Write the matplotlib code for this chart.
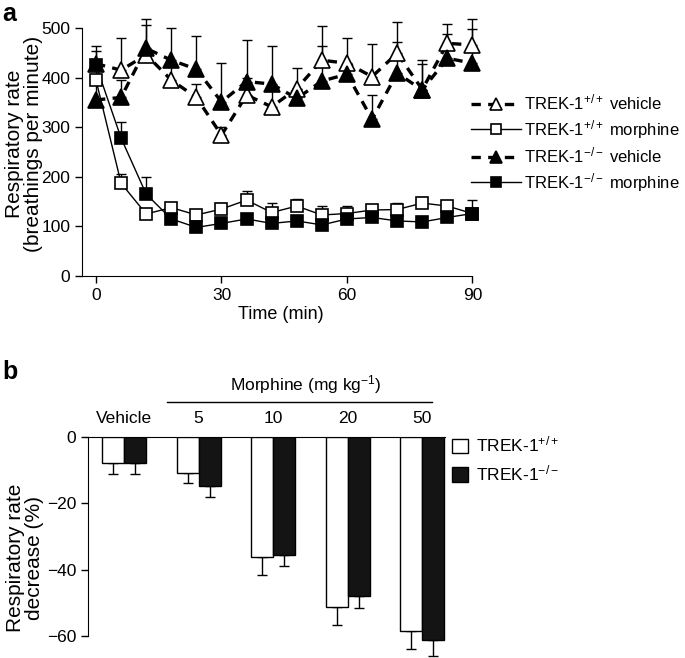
import matplotlib
matplotlib.use("Agg")
import numpy as np
import matplotlib.pyplot as plt
from matplotlib.lines import Line2D

plt.rcParams['font.family'] = ['Liberation Sans', 'DejaVu Sans']
plt.rcParams['font.size'] = 13
plt.rcParams['mathtext.fontset'] = 'custom'
plt.rcParams['mathtext.rm'] = 'Liberation Sans'
plt.rcParams['mathtext.it'] = 'Liberation Sans:italic'
plt.rcParams['mathtext.bf'] = 'Liberation Sans:bold'

# data, panel a
t = [0, 6, 12, 18, 24, 30, 36, 42, 48, 54, 60, 66, 72, 78, 84, 90]
wt_veh = [428, 415, 446, 395, 360, 284, 365, 341, 378, 435, 429, 402, 449, 376, 469, 466]
wt_veh_err = [36, 64, 60, 35, 27, 17, 34, 40, 41, 69, 50, 66, 64, 59, 40, 53]
ko_veh = [355, 360, 459, 435, 417, 351, 392, 387, 358, 393, 407, 316, 409, 375, 439, 429]
ko_veh_err = [40, 35, 60, 66, 66, 79, 84, 77, 20, 71, 20, 49, 62, 52, 49, 69]
wt_mor = [395, 187, 125, 138, 123, 135, 153, 128, 141, 123, 126, 133, 134, 147, 141, 126]
wt_mor_err = [20, 19, 10, 8, 8, 12, 19, 20, 14, 18, 15, 8, 13, 12, 8, 8]
ko_mor = [425, 278, 165, 115, 98, 106, 115, 106, 111, 103, 115, 118, 111, 109, 118, 126]
ko_mor_err = [29, 32, 35, 8, 8, 8, 8, 8, 8, 8, 8, 8, 8, 8, 8, 27]

# data, panel b
groups = ['Vehicle', '5', '10', '20', '50']
wt_dec = [-7.8, -11.0, -36.3, -51.4, -58.5]
wt_dec_err = [3.4, 3.0, 5.3, 5.2, 5.3]
ko_dec = [-7.8, -14.7, -35.6, -47.8, -61.3]
ko_dec_err = [3.4, 3.3, 3.2, 3.7, 4.7]

W, H = 685, 658
fig = plt.figure(figsize=(W / 100, H / 100), dpi=100)

# ---------- panel a ----------
ax = fig.add_axes([82 / W, 1 - 276 / H, 398 / W, (276 - 15.6) / H])
ax.set_xlim(-3.35, 91.8)
ax.set_ylim(0, 525)
dash = (0, (2.8, 2.2))

series = [
    (wt_veh, wt_veh_err, '^', 'white', dash, 2.4, 11),
    (wt_mor, wt_mor_err, 's', 'white', '-', 1.0, 8.5),
    (ko_veh, ko_veh_err, '^', 'black', dash, 2.4, 11),
    (ko_mor, ko_mor_err, 's', 'black', '-', 1.0, 8.5),
]
handles = []
for y, e, m, fc, ls, lw, ms in series:
    ax.errorbar(t, y, yerr=[np.zeros(len(e)), e], fmt='none', ecolor='black',
                elinewidth=1, capsize=3.5, capthick=1, zorder=2)
    ax.plot(t, y, color='black', ls=ls, lw=lw, zorder=3)
    ax.plot(t, y, ls='none', marker=m, ms=ms, mfc=fc, mec='black', mew=1.2, zorder=4)
    handles.append(Line2D([], [], color='black', ls=ls, lw=lw, marker=m, ms=ms * 0.85,
                          mfc=fc, mec='black', mew=1.2))

ax.spines['top'].set_visible(False)
ax.spines['right'].set_visible(False)
ax.spines['left'].set_bounds(0, 500)
ax.spines['bottom'].set_bounds(-3.35, 90)
ax.set_xticks([0, 30, 60, 90])
ax.set_yticks([0, 100, 200, 300, 400, 500])
ax.tick_params(direction='out', length=5, width=1, labelsize=12.5)
ax.set_xlabel('Time (min)', labelpad=2)

labels_a = ['TREK-1$^{+/+}$ vehicle', 'TREK-1$^{+/+}$ morphine',
            'TREK-1$^{-/-}$ vehicle', 'TREK-1$^{-/-}$ morphine']
fig.legend(handles, labels_a, loc='upper left', bbox_to_anchor=(471 / W, 1 - 93 / H),
           frameon=False, fontsize=12, handlelength=3.0, handletextpad=0.2,
           labelspacing=0.3, borderpad=0, borderaxespad=0)

fig.text(24 / W, 1 - 144 / H, 'Respiratory rate\n(breathings per minute)',
         rotation=90, ha='center', va='center', linespacing=1.0, fontsize=15)
fig.text(2 / W, 1 - 2 / H, 'a', fontsize=18, fontweight='bold', ha='left', va='top')

# ---------- panel b ----------
bx = fig.add_axes([88 / W, 0.0, 597 / W, 1 - 436.7 / H])
bx.set_xlim(-0.483, 7.52)
bx.set_ylim(-66.6, 0)
x = np.arange(len(groups))
bw = 0.295
bx.bar(x - bw / 2, wt_dec, bw, color='white', edgecolor='black', lw=1, zorder=3)
bx.bar(x + bw / 2, ko_dec, bw, color='#141414', edgecolor='black', lw=1, zorder=3)
bx.errorbar(x - bw / 2, wt_dec, yerr=[wt_dec_err, np.zeros(len(x))], fmt='none',
            ecolor='black', elinewidth=1, capsize=3.5, capthick=1, zorder=2, clip_on=False)
bx.errorbar(x + bw / 2, ko_dec, yerr=[ko_dec_err, np.zeros(len(x))], fmt='none',
            ecolor='black', elinewidth=1, capsize=3.5, capthick=1, zorder=2, clip_on=False)

bx.spines['right'].set_visible(False)
bx.spines['bottom'].set_visible(False)
bx.spines['left'].set_bounds(-60, 0)
bx.spines['top'].set_bounds(-0.483, 4.3)
bx.set_xticks([])
bx.set_yticks([0, -20, -40, -60])
bx.tick_params(direction='out', length=5, width=1, labelsize=12.5)

for i, g in enumerate(groups):
    bx.text(i, 5.6, g, ha='center', va='center', clip_on=False, fontsize=12.5)
bx.plot([0.576, 4.13], [10.4, 10.4], color='black', lw=1, clip_on=False)
bx.text(2.44, 15.6, 'Morphine (mg kg$^{-1}$)', ha='center', va='center',
        clip_on=False, fontsize=12.5)

hb = [plt.Rectangle((0, 0), 1, 1, fc='white', ec='black', lw=1),
      plt.Rectangle((0, 0), 1, 1, fc='#141414', ec='black', lw=1)]
fig.legend(hb, ['TREK-1$^{+/+}$', 'TREK-1$^{-/-}$'], loc='upper left',
           bbox_to_anchor=(452 / W, 1 - 435 / H), frameon=False, fontsize=12.5,
           handlelength=0.9, handleheight=0.9, handletextpad=0.5, labelspacing=0.5,
           borderpad=0, borderaxespad=0)

fig.text(25 / W, 1 - 558 / H, 'Respiratory rate\ndecrease (%)', rotation=90,
         ha='center', va='center', linespacing=1.0, fontsize=15)
fig.text(2 / W, 1 - 360 / H, 'b', fontsize=18, fontweight='bold', ha='left', va='top')

fig.savefig('out.png', dpi=100)
